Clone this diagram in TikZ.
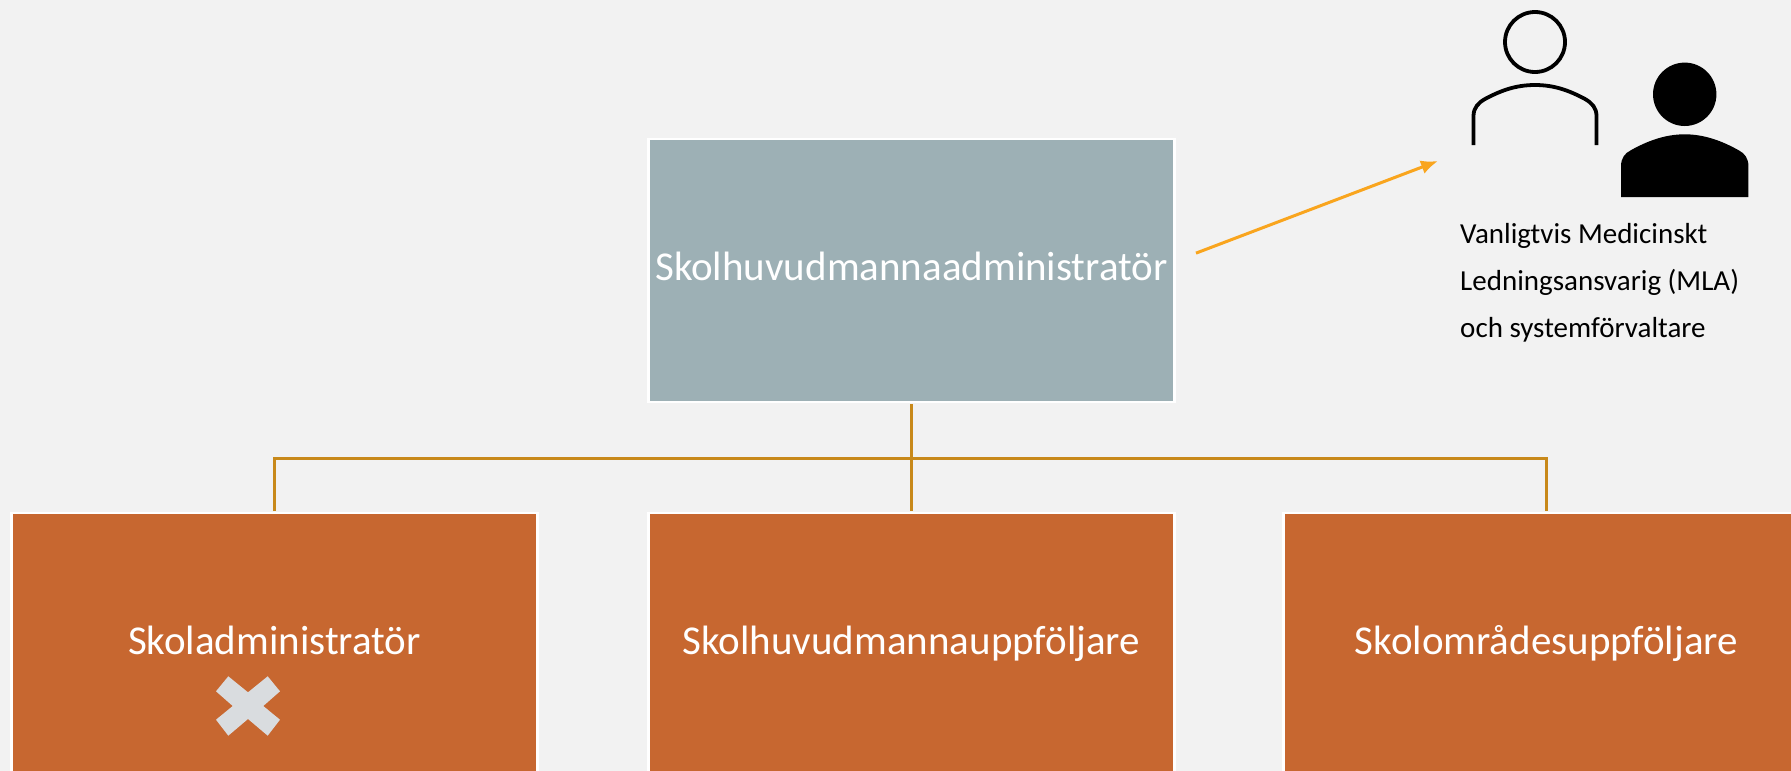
\documentclass[tikz,border=0pt]{standalone}
\usepackage{fontspec}
\setmainfont{Carlito}
\usetikzlibrary{positioning,arrows.meta}
\definecolor{pagegray}{HTML}{F2F2F2}
\definecolor{slate}{HTML}{9DB0B5}
\definecolor{rust}{HTML}{C76730}
\definecolor{ochre}{HTML}{C8891A}
\definecolor{amber}{HTML}{F9A51E}
\definecolor{crossgray}{HTML}{D9DCDF}
\tikzset{
 rolebox/.style={draw=white,line width=2.5pt,outer sep=0pt,minimum width=526pt,minimum height=263pt,inner sep=0pt,text=white,text height=28pt,text depth=8pt,font=\fontsize{41}{50}\selectfont},
 branch/.style={draw=ochre,line width=3pt},
}

\begin{document}
\begin{tikzpicture}[x=1pt,y=-1pt]

\clip (0,0) rectangle (1791,771);
\fill[pagegray] (0,0) rectangle (1791,771);

%roles
\node[rolebox,fill=slate] (top) at (911.5,270.5) {Skolhuvudmannaadministratör};
\node[rolebox,fill=rust,below=111pt of top] (mid) {Skolhuvudmannauppföljare};
\node[rolebox,fill=rust,left=111pt of mid] (left) {Skoladministratör};
\node[rolebox,fill=rust,right=109pt of mid] (right) {Skolområdesuppföljare};

%tree
\coordinate (bus) at (top.south |- 0,458);
\draw[branch,shorten <=2pt,shorten >=2pt] (top.south) -- (mid.north);
\draw[branch,shorten <=2pt,shorten >=2pt] (left.north) |- (bus) -| (right.north);

%arrow
\coordinate (mlatip) at (1438,161);
\draw[amber,line width=3pt,-{Latex[length=17pt,width=14pt]},shorten <=23pt] (top.2.2) -- (mlatip);

%cross
\begin{scope}[shift={(248,706)}]
 \fill[crossgray] (-19.7,-29.7) -- (0,-13.7) -- (19.7,-29.7) -- (32,-14.7) -- (15.3,0) -- (32,13.7) -- (19.7,29.7) -- (0,13) -- (-19.7,29.7) -- (-32,13.7) -- (-15.3,0) -- (-32,-14.7) -- cycle;
\end{scope}

%outline person
\begin{scope}[shift={(1535,42)}]
 \draw[line width=3.8pt] (0,0) circle (30);
 \draw[line width=3.8pt] (-61.5,103) -- (-61.5,74) .. controls (-61.5,66) and (-57,61) .. (-50,57) .. controls (-35,49) and (-20,43) .. (0,43) .. controls (20,43) and (35,49) .. (50,57) .. controls (57,61) and (61.5,66) .. (61.5,74) -- (61.5,103);
\end{scope}

%filled person
\begin{scope}[shift={(1684.7,94.3)}]
 \fill (0,0) circle (31.7);
 \fill (-63.7,102.7) -- (-63.7,72) .. controls (-63.7,64) and (-60,59) .. (-54,56) .. controls (-38,47) and (-20,40) .. (0,40) .. controls (20,40) and (38,47) .. (54,56) .. controls (60,59) and (63.7,64) .. (63.7,72) -- (63.7,102.7) -- cycle;
\end{scope}

%text
\node[anchor=west,inner sep=0pt,align=left,font=\fontsize{29}{47}\selectfont] (mla) at (1460,283) {Vanligtvis Medicinskt\\Ledningsansvarig (MLA)\\och systemförvaltare};

\end{tikzpicture}
\end{document}
